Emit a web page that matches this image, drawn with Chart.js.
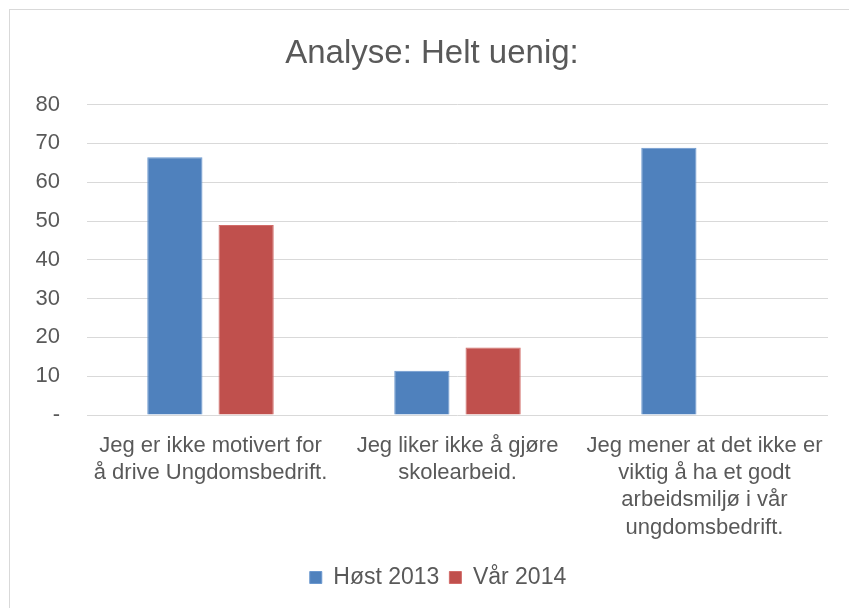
<!DOCTYPE html>
<html>
<head>
<meta charset="utf-8">
<script src="https://cdn.jsdelivr.net/npm/chart.js@4/dist/chart.umd.min.js"></script>
<style>
  html, body { margin: 0; padding: 0; background: #fff; }
  #wrap { width: 849px; height: 608px; }
</style>
</head>
<body>
<div id="wrap"><canvas id="analyse-chart" width="849" height="608"></canvas></div>
<script>
// data
const categories = [
    ['Jeg er ikke motivert for', 'å drive Ungdomsbedrift.'],
    ['Jeg liker ikke å gjøre', 'skolearbeid.'],
    ['Jeg mener at det ikke er', 'viktig å ha et godt', 'arbeidsmiljø i vår', 'ungdomsbedrift.']
];
const seriesNames = ['Høst 2013', 'Vår 2014'];
const host2013 = [66.4, 11.4, 68.9];
const var2014 = [49.0, 17.4, null];
const yTicks = [0, 10, 20, 30, 40, 50, 60, 70, 80];

const textColor = '#595959';
const gridColor = '#d9d9d9';
const fontFamily = '"Liberation Sans", Arial, sans-serif';

// white background plus the light frame round the chart
const framePlugin = {
    id: 'frame',
    beforeDraw(chart) {
        const ctx = chart.ctx;
        ctx.save();
        ctx.fillStyle = '#fff';
        ctx.fillRect(0, 0, chart.width, chart.height);
        ctx.strokeStyle = gridColor;
        ctx.lineWidth = 1;
        ctx.strokeRect(9.5, 9.5, chart.width + 20, chart.height + 20);
        ctx.restore();
    }
};

// title and legend sit a little right of the canvas centre in the original
const nudgePlugin = {
    id: 'nudge',
    afterLayout(chart) {
        if (chart.titleBlock) { chart.titleBlock.left += 18; chart.titleBlock.right += 18; }
        if (chart.legend) { chart.legend.left += 24; chart.legend.right += 24; }
    }
};

let canvasElement = document.getElementById('analyse-chart').getContext('2d');

const analyseChart = new Chart(canvasElement, {
    type: 'bar',
    data: {
        labels: categories,
        datasets: [{
            label: seriesNames[0],
            data: host2013,
            backgroundColor: '#4F81BD',
            borderColor: '#6b98cf',
            borderWidth: 1
        }, {
            label: seriesNames[1],
            data: var2014,
            backgroundColor: '#C0504D',
            borderColor: '#d26c69',
            borderWidth: 1
        }]
    },
    options: {
        responsive: false,
        animation: false,
        categoryPercentage: 0.577,
        barPercentage: 0.775,
        layout: { padding: { left: 0, right: 21, top: 0, bottom: 9 } },
        plugins: {
            title: {
                display: true,
                text: 'Analyse: Helt uenig:',
                color: textColor,
                font: { family: fontFamily, size: 33, weight: 'normal' },
                padding: { top: 34, bottom: 31 }
            },
            legend: {
                position: 'bottom',
                labels: {
                    color: textColor,
                    font: { family: fontFamily, size: 23 },
                    boxWidth: 12,
                    boxHeight: 12,
                    padding: 10
                }
            },
            tooltip: { enabled: false }
        },
        scales: {
            x: {
                grid: { display: false },
                border: { display: false },
                ticks: {
                    color: textColor,
                    font: { family: fontFamily, size: 22, lineHeight: 1.24 },
                    padding: 9,
                    maxRotation: 0,
                    autoSkip: false
                },
                afterFit(scale) { scale.height = 141; }
            },
            y: {
                min: 0,
                max: 80,
                afterBuildTicks(scale) { scale.ticks = yTicks.map(v => ({ value: v })); },
                grid: { color: gridColor, lineWidth: 1, drawTicks: false },
                border: { display: false },
                ticks: {
                    color: textColor,
                    font: { family: fontFamily, size: 22 },
                    padding: 27,
                    callback: (v) => v === 0 ? '-' : v
                },
                afterFit(scale) { scale.width = 87; }
            }
        }
    },
    plugins: [framePlugin, nudgePlugin]
});
</script>
</body>
</html>
